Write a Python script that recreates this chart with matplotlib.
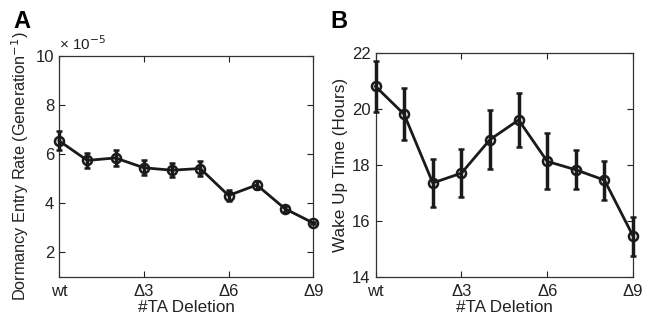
import numpy as np
import matplotlib
matplotlib.use('Agg')
import matplotlib.pyplot as plt

plt.rcParams['font.family'] = ['Liberation Sans', 'DejaVu Sans']
plt.rcParams['font.size'] = 11

# x positions: wt, Δ1 ... Δ9
n_del = [0, 1, 2, 3, 4, 5, 6, 7, 8, 9]
tick_pos = [0, 3, 6, 9]
tick_lab = ['wt', '\u03943', '\u03946', '\u03949']

# panel A: dormancy entry rate (x 1e-5 per generation)
rate = [6.55, 5.75, 5.85, 5.45, 5.35, 5.42, 4.32, 4.75, 3.78, 3.2]
rate_err = [0.38, 0.32, 0.33, 0.3, 0.28, 0.3, 0.22, 0.15, 0.12, 0.05]

# panel B: wake up time (hours)
wake = [20.8, 19.8, 17.35, 17.7, 18.9, 19.6, 18.12, 17.82, 17.45, 15.45]
wake_err = [0.9, 0.93, 0.87, 0.85, 1.05, 0.97, 1.0, 0.7, 0.7, 0.7]

fig = plt.figure(figsize=(6.52, 3.24), dpi=100)
axA = fig.add_axes([0.0905, 0.145, 0.39, 0.682])
axB = fig.add_axes([0.576, 0.146, 0.395, 0.691])


def style(ax):
    ax.set_xlim(0, 9)
    ax.set_xticks(tick_pos)
    ax.set_xticklabels(tick_lab)
    ax.tick_params(direction='in', top=True, right=True, length=4,
                   width=0.8, colors='#222222', labelcolor='#222222',
                   labelsize=12)
    ax.tick_params(axis='x', pad=5)
    for s in ax.spines.values():
        s.set_color('#333333')
        s.set_linewidth(0.9)
    ax.set_xlabel('#TA Deletion', fontsize=12.3, color='#222222', labelpad=1)


def draw(ax, y, e):
    ax.errorbar(n_del, y, yerr=e, color='#1a1a1a', lw=2, elinewidth=2.5,
                capsize=2, capthick=2, marker='o', ms=6.5, mfc='none',
                mec='#1a1a1a', mew=1.8, clip_on=False, zorder=3)


draw(axA, rate, rate_err)
style(axA)
axA.set_ylim(1, 10)
axA.set_yticks([2, 4, 6, 8, 10])
axA.set_ylabel('Dormancy Entry Rate (Generation$^{-1}$)', fontsize=11.7,
               color='#222222', labelpad=3)
axA.text(0.0, 1.015, '\u00d7 10$^{-5}$', transform=axA.transAxes,
         fontsize=11, color='#222222', ha='left', va='bottom')

draw(axB, wake, wake_err)
style(axB)
axB.set_ylim(14, 22)
axB.set_yticks([14, 16, 18, 20, 22])
axB.set_ylabel('Wake Up Time (Hours)', fontsize=12.3, color='#222222',
               labelpad=3)

fig.text(0.02, 0.915, 'A', fontsize=17, fontweight='bold')
fig.text(0.507, 0.915, 'B', fontsize=17, fontweight='bold')

fig.savefig('out.png', dpi=100)
